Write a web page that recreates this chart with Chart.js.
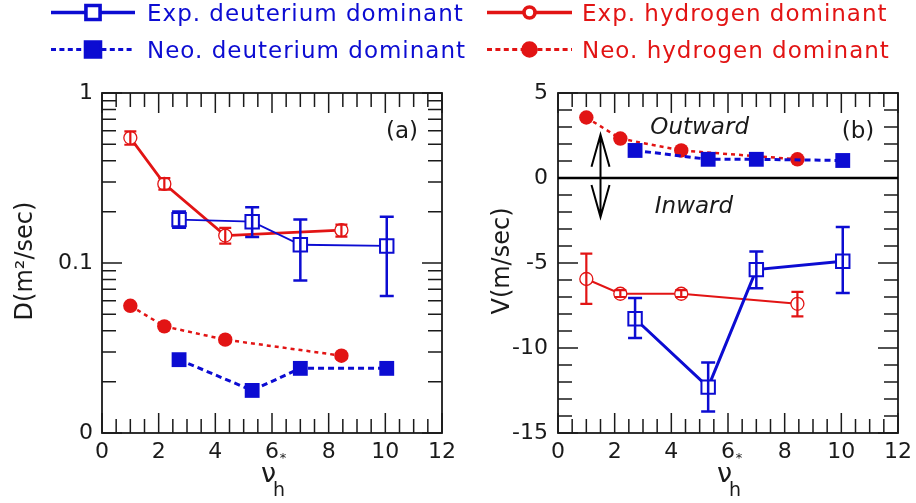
<!DOCTYPE html>
<html>
<head>
<title>D and V versus collisionality</title>
<script src="https://cdn.jsdelivr.net/npm/chart.js@4.4.0/dist/chart.umd.min.js"></script>
<style>
  body { margin: 0; background: #fff; overflow: hidden; }
  canvas { position: absolute; top: 0; }
  #panelA { left: 0; }
  #panelB { left: 458px; }
</style>
</head>
<body>
<canvas id="panelA" width="470" height="503"></canvas>
<canvas id="panelB" width="480" height="503"></canvas>
<script>
// collisionality of each discharge, same in both panels
const nuHydrogen = [1.0, 2.2, 4.35, 8.45];
const nuDeuterium = [2.72, 5.3, 7.0, 10.05];

// (a) diffusion coefficient D (m^2/sec)
const dExpDeut = [0.180, 0.175, 0.128, 0.126];
const dExpDeutLow = [0.161, 0.142, 0.079, 0.064];
const dExpDeutHigh = [0.201, 0.213, 0.180, 0.187];
const dExpHyd = [0.545, 0.292, 0.145, 0.156];
const dExpHydLow = [0.496, 0.270, 0.130, 0.143];
const dExpHydHigh = [0.595, 0.316, 0.161, 0.168];
const dNeoDeut = [0.027, 0.0178, 0.024, 0.024];
const dNeoHyd = [0.056, 0.0424, 0.0354, 0.0285];

// (b) convection velocity V (m/sec)
const vExpDeut = [-8.28, -12.3, -5.39, -4.9];
const vExpDeutLow = [-9.41, -13.73, -6.49, -6.76];
const vExpDeutHigh = [-7.06, -10.85, -4.32, -2.88];
const vExpHyd = [-5.94, -6.81, -6.81, -7.4];
const vExpHydLow = [-7.4, -7.0, -7.0, -8.14];
const vExpHydHigh = [-4.45, -6.6, -6.6, -6.7];
const vNeoDeut = [1.62, 1.1, 1.1, 1.03];
const vNeoHyd = [3.56, 2.32, 1.62, 1.1];

// axis ticks
const xTicks = [0, 2, 4, 6, 8, 10, 12];
const xTickLabels = ['0', '2', '4', '6', '8', '10', '12'];
const dTicks = [0.01, 0.1, 1];
const dTickLabels = ['0', '0.1', '1'];
const vTicks = [-15, -10, -5, 0, 5];
const vTickLabels = ['-15', '-10', '-5', '0', '5'];

const seriesNames = ['Exp. deuterium dominant', 'Neo. deuterium dominant',
                     'Exp. hydrogen dominant', 'Neo. hydrogen dominant'];

const BLUE = '#0c0cd2';
const RED = '#e21414';
const INK = '#1a1a1a';
const FONT = 'DejaVu Sans';

// inward tick marks: [value, isMajor]
const xTickMarks = [];
for (let v = 0; v <= 12; v += 0.5) xTickMarks.push([v, v % 2 === 0]);
const dTickMarks = [];
[0.01, 0.1].forEach(d => { for (let k = 1; k <= 9; k++) dTickMarks.push([k * d, k === 1]); });
dTickMarks.push([1, true]);
const vTickMarks = [];
for (let v = -15; v <= 5; v++) vTickMarks.push([v, v % 5 === 0]);

function points(xs, ys, lo, hi) {
    return xs.map((x, i) => ({x: x, y: ys[i], lo: lo ? lo[i] : null, hi: hi ? hi[i] : null}));
}

function expDeut(ys, lo, hi, width) {
    return {label: seriesNames[0], data: points(nuDeuterium, ys, lo, hi), showLine: true,
        borderColor: BLUE, backgroundColor: '#fff', borderWidth: width,
        pointStyle: 'rect', pointRadius: 9.5, pointBorderWidth: 2,
        pointBorderColor: BLUE, pointBackgroundColor: '#fff', errCap: 14, errWidth: 2.5};
}
function neoDeut(ys) {
    return {label: seriesNames[1], data: points(nuDeuterium, ys), showLine: true,
        borderColor: BLUE, backgroundColor: BLUE, borderWidth: 3, borderDash: [6, 4],
        pointStyle: 'rect', pointRadius: 10.5, pointBorderWidth: 0,
        pointBackgroundColor: BLUE};
}
function expHyd(ys, lo, hi, width) {
    return {label: seriesNames[2], data: points(nuHydrogen, ys, lo, hi), showLine: true,
        borderColor: RED, backgroundColor: '#fff', borderWidth: width,
        pointStyle: 'circle', pointRadius: 6.5, pointBorderWidth: 1.3,
        pointBorderColor: RED, pointBackgroundColor: '#fff', errCap: 12, errWidth: 2.2};
}
function neoHyd(ys) {
    return {label: seriesNames[3], data: points(nuHydrogen, ys), showLine: true,
        borderColor: RED, backgroundColor: RED, borderWidth: 2.5, borderDash: [4, 4],
        pointStyle: 'circle', pointRadius: 7.2, pointBorderWidth: 0,
        pointBackgroundColor: RED};
}

function text(ctx, str, x, y, font, color, align, base) {
    ctx.font = font;
    ctx.fillStyle = color;
    ctx.textAlign = align || 'center';
    ctx.textBaseline = base || 'middle';
    ctx.fillText(str, x, y);
}

// frame, inward ticks, error bars, legend and labels
const decor = {
    id: 'decor',
    beforeDatasetsDraw(chart, args, o) {
        const {ctx, chartArea: a, scales} = chart;
        const x = scales.x, y = scales.y;
        ctx.save();
        ctx.strokeStyle = INK;
        ctx.lineWidth = 1.5;
        ctx.beginPath();
        xTickMarks.forEach(([v, major]) => {
            const px = x.getPixelForValue(v), len = major ? 20 : 14;
            ctx.moveTo(px, a.bottom); ctx.lineTo(px, a.bottom - len);
            ctx.moveTo(px, a.top); ctx.lineTo(px, a.top + len);
        });
        const marks = o.panel === 'a' ? dTickMarks : vTickMarks;
        marks.forEach(([v, major]) => {
            const py = y.getPixelForValue(v), len = major ? 20 : 14;
            ctx.moveTo(a.left, py); ctx.lineTo(a.left + len, py);
            ctx.moveTo(a.right, py); ctx.lineTo(a.right - len, py);
        });
        ctx.stroke();
        ctx.lineWidth = 1.8;
        ctx.strokeRect(a.left, a.top, a.right - a.left, a.bottom - a.top);
        if (o.panel === 'b') {
            const py = y.getPixelForValue(0);
            ctx.strokeStyle = '#000';
            ctx.lineWidth = 2.6;
            ctx.beginPath();
            ctx.moveTo(a.left, py); ctx.lineTo(a.right, py);
            ctx.stroke();
        }
        ctx.restore();
    },
    afterDatasetsDraw(chart, args, o) {
        const {ctx, chartArea: a, scales} = chart;
        const x = scales.x, y = scales.y;
        ctx.save();

        // error bars
        chart.data.datasets.forEach((ds, i) => {
            if (!ds.errCap) return;
            const meta = chart.getDatasetMeta(i);
            ctx.strokeStyle = ds.borderColor;
            ctx.lineWidth = ds.errWidth;
            ds.data.forEach((p, j) => {
                if (p.lo == null) return;
                const px = meta.data[j].x;
                const y0 = y.getPixelForValue(p.lo), y1 = y.getPixelForValue(p.hi);
                const h = ds.errCap / 2;
                ctx.beginPath();
                ctx.moveTo(px, y0); ctx.lineTo(px, y1);
                ctx.moveTo(px - h, y0); ctx.lineTo(px + h, y0);
                ctx.moveTo(px - h, y1); ctx.lineTo(px + h, y1);
                ctx.stroke();
            });
        });

        // legend, two rows per panel
        const lg = o.legend;
        lg.indices.forEach((idx, row) => {
            const ds = chart.data.datasets[idx];
            const ly = row === 0 ? 12.5 : 49.5;
            ctx.strokeStyle = ds.borderColor;
            ctx.lineWidth = row === 0 ? 3.6 : 3;
            ctx.setLineDash(row === 0 ? [] : [5, 3.4]);
            ctx.beginPath();
            ctx.moveTo(lg.x0, ly); ctx.lineTo(lg.x1, ly);
            ctx.stroke();
            ctx.setLineDash([]);
            const mx = (lg.x0 + lg.x1) / 2;
            ctx.fillStyle = ds.pointBackgroundColor;
            ctx.strokeStyle = ds.borderColor;
            const isRect = ds.pointStyle === 'rect';
            const r = isRect ? (row === 0 ? 10 : 11) : (row === 0 ? 5.5 : 6.8);
            Chart.helpers.drawPoint(ctx, {pointStyle: ds.pointStyle, radius: r, rotation: 0,
                borderWidth: ds.pointBorderWidth || 0.01}, mx, ly);
            if ('letterSpacing' in ctx) ctx.letterSpacing = '1px';
            text(ctx, ds.label, lg.tx, ly + 8.5, '23px ' + FONT, ds.borderColor, 'left', 'alphabetic');
            if ('letterSpacing' in ctx) ctx.letterSpacing = '0px';
        });

        // panel tag
        text(ctx, o.tag, a.right - 40, a.top + 39, '23px ' + FONT, INK, 'center', 'middle');

        // x axis title with the small star after 6
        const sx = x.getPixelForValue(6);
        text(ctx, '*', sx + 11, a.bottom + 26, '13px ' + FONT, INK, 'center', 'middle');
        text(ctx, 'ν', sx + 4, a.bottom + 49, '27px ' + FONT, INK, 'right', 'alphabetic');
        text(ctx, 'h', sx + 1, a.bottom + 63, '19px ' + FONT, INK, 'left', 'alphabetic');

        // y axis title
        ctx.save();
        ctx.translate(o.yTitleX, (a.top + a.bottom) / 2 - 2);
        ctx.rotate(-Math.PI / 2);
        text(ctx, o.yTitle, 0, 0, '24px ' + FONT, INK, 'center', 'middle');
        ctx.restore();

        if (o.panel === 'b') {
            text(ctx, 'Outward', x.getPixelForValue(5.0), y.getPixelForValue(2.95),
                'italic 23px ' + FONT, INK, 'center', 'middle');
            text(ctx, 'Inward', x.getPixelForValue(4.8), y.getPixelForValue(-1.7),
                'italic 23px ' + FONT, INK, 'center', 'middle');
            // double arrow across the zero line
            const ax = x.getPixelForValue(1.5);
            const top = y.getPixelForValue(2.55), bot = y.getPixelForValue(-2.3);
            ctx.strokeStyle = '#000';
            ctx.lineWidth = 2;
            ctx.beginPath();
            ctx.moveTo(ax, top); ctx.lineTo(ax, bot);
            ctx.moveTo(ax - 9, top + 32); ctx.lineTo(ax, top); ctx.lineTo(ax + 9, top + 32);
            ctx.moveTo(ax - 9, bot - 32); ctx.lineTo(ax, bot); ctx.lineTo(ax + 9, bot - 32);
            ctx.stroke();
        }
        ctx.restore();
    }
};

function xScale() {
    return {
        type: 'linear', min: 0, max: 12,
        afterBuildTicks: s => { s.ticks = xTicks.map(v => ({value: v})); },
        afterFit: s => { s.height = 70; },
        grid: {display: false, drawTicks: false},
        border: {display: false},
        ticks: {callback: (v, i) => xTickLabels[i], padding: 6, maxRotation: 0, autoSkip: false,
                color: INK, font: {family: FONT, size: 22}}
    };
}

function makePanel(id, yScale, datasets, plugOpts, padLeft, padRight) {
    new Chart(document.getElementById(id), {
        type: 'scatter',
        data: {datasets: datasets},
        options: {
            responsive: false,
            animation: false,
            layout: {padding: {top: 93, right: padRight, bottom: 0, left: 0}},
            scales: {x: xScale(), y: Object.assign(yScale, {afterFit: s => { s.width = padLeft; }})},
            plugins: {legend: {display: false}, tooltip: {enabled: false}, decor: plugOpts}
        },
        plugins: [decor]
    });
}

makePanel('panelA', {
    type: 'logarithmic', min: 0.01, max: 1,
    afterBuildTicks: s => { s.ticks = dTicks.map(v => ({value: v})); },
    grid: {display: false, drawTicks: false},
    border: {display: false},
    ticks: {callback: (v, i) => dTickLabels[i], padding: 9, color: INK, font: {family: FONT, size: 22}}
}, [
    expDeut(dExpDeut, dExpDeutLow, dExpDeutHigh, 1.8),
    neoDeut(dNeoDeut),
    expHyd(dExpHyd, dExpHydLow, dExpHydHigh, 2.8),
    neoHyd(dNeoHyd)
], {panel: 'a', tag: '(a)', yTitle: 'D(m²/sec)', yTitleX: 26,
    legend: {indices: [0, 1], x0: 51, x1: 135, tx: 147}}, 102, 28);

makePanel('panelB', {
    type: 'linear', min: -15, max: 5,
    afterBuildTicks: s => { s.ticks = vTicks.map(v => ({value: v})); },
    grid: {display: false, drawTicks: false},
    border: {display: false},
    ticks: {callback: (v, i) => vTickLabels[i], padding: 10, color: INK, font: {family: FONT, size: 22}}
}, [
    expDeut(vExpDeut, vExpDeutLow, vExpDeutHigh, 3),
    neoDeut(vNeoDeut),
    expHyd(vExpHyd, vExpHydLow, vExpHydHigh, 2),
    neoHyd(vNeoHyd)
], {panel: 'b', tag: '(b)', yTitle: 'V(m/sec)', yTitleX: 45,
    legend: {indices: [2, 3], x0: 29, x1: 114, tx: 124}}, 100, 40);
</script>
</body>
</html>
